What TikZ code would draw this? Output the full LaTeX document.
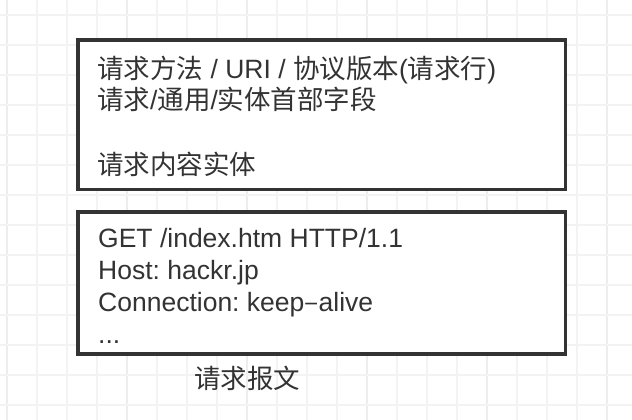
\documentclass[tikz,border=0pt]{standalone}
\usepackage{fontspec}
\setmainfont{Liberation Sans}
\newfontfamily\cjk{Noto Sans CJK SC}
\usepackage{xcolor}
\definecolor{inkgray}{HTML}{333333}
\definecolor{gridminor}{HTML}{F3F3F3}
\definecolor{gridmajor}{HTML}{EDEDED}
\usepackage{tikz}
\usetikzlibrary{positioning}
\frenchspacing

\tikzset{
    msgbox/.style={draw=inkgray,line width=3.5pt,fill=white,inner sep=0pt},
    msgtext/.style={anchor=base west,inner sep=0pt,text=inkgray,font=\fontsize{26.5}{32}\selectfont},
}

\begin{document}
\begin{tikzpicture}[x=1pt,y=-1pt]
    \useasboundingbox (0,0) rectangle (632,420);
    % background grid
    \foreach \k in {0,...,20} {
        \pgfmathsetmacro{\gx}{7+30*\k}
        \pgfmathtruncatemacro{\major}{mod(\k,4)==0}
        \ifnum\major=1
            \draw[gridmajor,line width=1.5pt] (\gx,0) -- (\gx,420);
        \else
            \draw[gridminor,line width=1.5pt] (\gx,0) -- (\gx,420);
        \fi
    }
    \foreach \k in {0,...,13} {
        \pgfmathsetmacro{\gy}{15+30*\k}
        \draw[gridminor,line width=1.5pt] (0,\gy) -- (632,\gy);
    }

    % request structure
    \node[msgbox,minimum width=487.5pt,minimum height=149.5pt] (schemabox) at (321.75,114.75) {};
    \node[msgtext] (reqline) at (97,78) {{\cjk 请求方法} / URI / {\cjk 协议版本}({\cjk 请求行})};
    \node[msgtext] (headers) at (97,110) {{\cjk 请求}/{\cjk 通用}/{\cjk 实体首部字段}};
    \node[msgtext] (body) at (97,174) {\cjk 请求内容实体};

    % sample message
    \node[msgbox,minimum width=487.5pt,minimum height=142pt] (samplebox) at (321.75,283) {};
    \node[msgtext] (getline) at (98,247) {GET /index.htm HTTP/1.1};
    \node[msgtext] (hostline) at (98,279) {Host: hackr.jp};
    \node[msgtext] (connline) at (98,311) {Connection: keep{\cjk –}alive};
    \node[msgtext] (moreline) at (98,343) {...};

    \node[msgtext] (caption) at (194,388) {\cjk 请求报文};
\end{tikzpicture}
\end{document}
